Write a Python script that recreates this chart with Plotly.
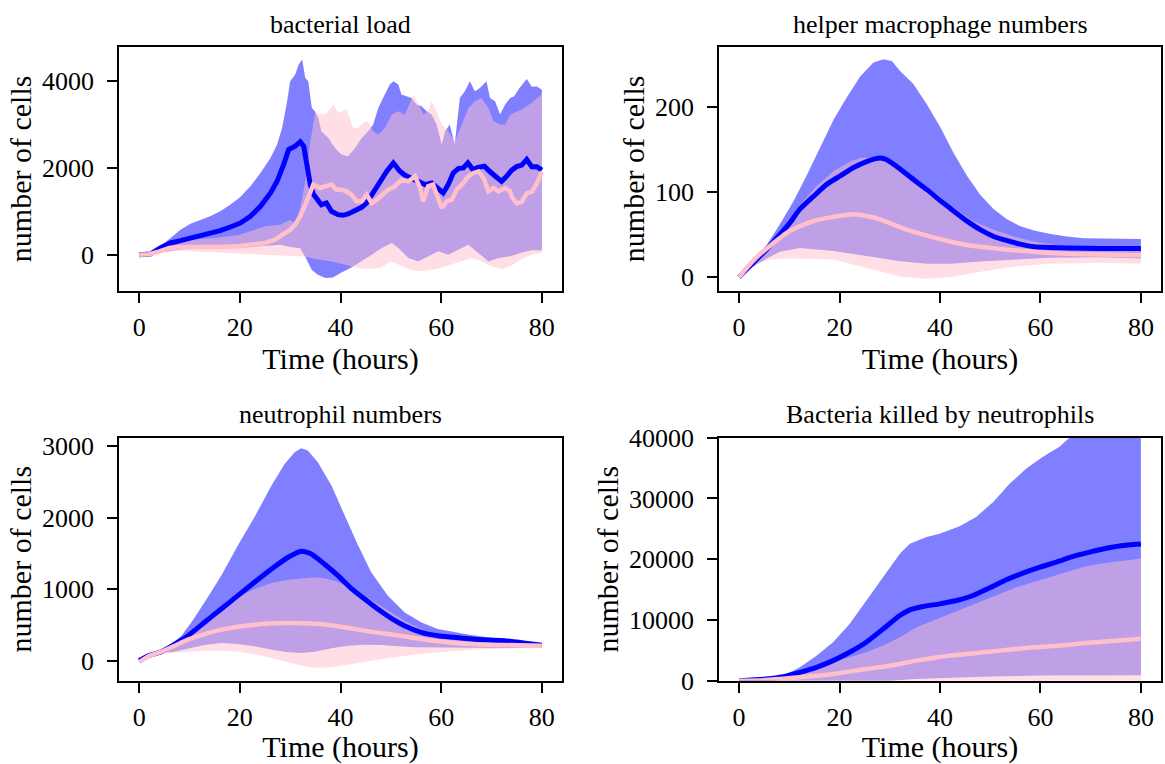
import plotly.graph_objects as go

# ---------------- Panel 1: bacterial load ----------------
p1_blue_mean_t = [0, 2.2, 4.2, 6.2, 8.2, 10.2, 12.2, 14.1, 16.1, 18.1, 20.1, 22.1, 24.1, 26.1, 27.4, 28.7, 29.7, 31.0, 32.0, 32.7,
                  33.4, 34.0, 34.6, 35.2, 36.2, 37.2, 38.2, 39.5, 40.5, 41.5, 42.8, 44.2, 45.2, 46.2, 47.2, 48.2, 49.2, 50.5, 51.8, 52.8,
                  54.1, 55.4, 56.8, 58.1, 59.4, 60.4, 61.4, 62.4, 63.4, 64.4, 65.3, 66.3, 67.3, 68.6, 69.6, 71, 72, 73, 74, 75,
                  76, 77, 78, 79, 80]
p1_blue_mean_v = [0, 15, 154, 270, 323, 385, 438, 484, 554, 638, 730, 884, 1115, 1423, 1692, 2076, 2422, 2500, 2600, 2500,
                  2000, 1615, 1400, 1308, 1153, 1193, 1000, 923, 908, 938, 1000, 1093, 1193, 1384, 1538, 1730, 1923, 2115, 1923, 1830,
                  1769, 1692, 1615, 1653, 1538, 1423, 1615, 1884, 1984, 2000, 2115, 1961, 2015, 2039, 1923, 1769, 1692, 1808, 1950, 2030,
                  2065, 2195, 2030, 2030, 1950]
p1_blue_hi_t = [0, 2.2, 4.2, 6.2, 8.2, 10.2, 12.2, 14.1, 16.1, 18.1, 20.1, 22.1, 24.1, 26.1, 27.4, 28.4, 29.4, 30.0, 31.0, 31.7,
                32.4, 33.0, 33.6, 34.3, 34.9, 35.6, 36.2, 37.6, 38.9, 40.2, 41.5, 42.9, 44.2, 45.5, 46.5, 47.5, 48.8, 49.8, 50.5, 51.5,
                52.1, 53.1, 54.1, 55.1, 56.1, 57.1, 58.1, 59.1, 60.1, 60.8, 61.7, 62.7, 63.7, 64.7, 65.7, 66.7, 67.7, 69.0, 69.7, 70.7,
                71.7, 72.7, 73.7, 74.5, 75.5, 77, 78, 79, 80]
p1_blue_hi_v = [0, 38, 190, 385, 577, 715, 807, 884, 1000, 1153, 1330, 1576, 1884, 2230, 2538, 2922, 3537, 3999, 4153, 4383,
                4500, 4076, 3999, 3384, 3307, 3153, 2845, 2692, 2461, 2307, 2269, 2461, 2692, 2845, 3000, 3384, 3691, 3922, 3999, 3922,
                3691, 3653, 3614, 3460, 3422, 3307, 3230, 3000, 2538, 2845, 3000, 2538, 3614, 3768, 3999, 3768, 3845, 3999, 3614, 3537,
                3230, 3460, 3614, 3650, 3830, 4050, 3870, 3880, 3800]
p1_blue_lo_t = [0, 3, 5, 8, 12, 16, 20, 25, 28, 30, 32, 33, 33.5, 34.3, 35.5, 37, 38.5, 40, 42, 43,
                44.2, 46.2, 48.2, 50.2, 51.5, 53.5, 55.4, 57.4, 59.4, 61.4, 63.4, 65.4, 67.4, 69.4, 71.4, 73.7, 76, 78, 80]
p1_blue_lo_v = [0, 0, 60, 120, 150, 160, 155, 200, 230, 180, 150, -50, -150, -350, -461, -538, -523, -423, -308, -230,
                -154, 0, 154, 270, 154, -77, -154, -38, 77, 0, 115, 230, 38, -154, -77, -38, 50, 100, 100]
p1_pink_mean_t = [0, 2, 4, 6, 8, 12, 16, 20, 23, 25, 27, 28.5, 30, 31, 32, 33, 34, 34.6, 35.9, 36.9,
                  38.2, 39.2, 40.2, 41.2, 42.2, 43.2, 44.2, 45.2, 46.2, 47.2, 48.2, 49.5, 50.8, 52.1, 53.5, 54.8, 55.8, 56.4, 57.4, 58.4,
                  59.1, 60.1, 61.1, 62.1, 63.1, 64.1, 65.4, 66.4, 67.4, 68.4, 69.4, 70.4, 71.4, 72.7, 73.7, 74, 75, 76, 77, 78,
                  79, 80]
p1_pink_mean_v = [0, 10, 77, 154, 177, 170, 177, 200, 230, 270, 346, 461, 577, 692, 884, 1153, 1461, 1615, 1538, 1576,
                  1615, 1500, 1500, 1461, 1384, 1230, 1230, 1384, 1192, 1269, 1384, 1500, 1576, 1730, 1692, 1807, 1538, 1230, 1576, 1615,
                  1384, 1077, 1230, 1269, 1500, 1615, 1807, 1884, 1922, 1769, 1461, 1538, 1461, 1538, 1461, 1336, 1183, 1220, 1413, 1450,
                  1643, 1912]
p1_pink_hi_t = [0, 3, 5, 8, 10, 15, 20, 25, 28, 30, 31, 32, 33, 34, 35, 35.6, 36.9, 37.9, 38.6, 39.6,
                40.6, 41.2, 42.5, 43.5, 44.5, 45.5, 46.5, 47.5, 48.8, 50.2, 51.5, 52.8, 54.5, 55.5, 56.5, 57.4, 58.1, 59.1, 60.1, 61.4,
                62.7, 64.1, 65.4, 66.7, 68.0, 69.4, 70.4, 71.7, 72.7, 73.7, 76, 78, 80]
p1_pink_hi_v = [0, 20, 120, 250, 346, 385, 461, 654, 692, 807, 730, 1077, 1700, 2600, 3300, 3230, 3230, 3345, 3460, 3268,
                3307, 3345, 2922, 2922, 3038, 3076, 2845, 2768, 2922, 3230, 3307, 3230, 3691, 3460, 3230, 3307, 3537, 3307, 3000, 2845,
                2615, 3000, 3384, 3537, 3614, 3384, 3076, 3000, 3000, 3230, 3350, 3500, 3700]
p1_pink_lo_t = [0, 3, 5, 8, 12, 16, 20, 25, 30, 33, 35, 38, 41, 43, 46, 48, 50, 52, 54, 56,
                58, 60, 62, 64, 66, 68, 70, 72, 74, 76, 78, 80]
p1_pink_lo_v = [0, 10, 60, 90, 70, 50, 30, 0, -30, -40, -100, -150, -230, -300, -330, -300, -150, -250, -350, -380,
                -350, -300, -230, -150, -77, -150, -270, -330, -250, -100, 0, 50]

# ---------------- Panel 2: helper macrophage numbers ----------------
p2_blue_mean_t = [0, 1.1, 2.8, 5.5, 8.1, 10.1, 12.1, 14.8, 17.4, 20.1, 22.8, 25.4, 28.1, 29.4, 32.1, 34.7, 37.4, 40.1, 42.7, 45.4,
                  48.0, 50.7, 53.4, 56.0, 58.7, 62, 65.3, 72, 80]
p2_blue_mean_v = [0, 7, 17, 33, 50, 64, 80, 95, 109, 119, 129, 136, 140, 138, 127, 115, 103, 90, 78, 66,
                  56, 48, 43, 39, 36, 35, 34.5, 34, 34]
p2_blue_hi_t = [0, 2.8, 5.5, 8.1, 10.8, 13.4, 16.1, 18.8, 21.4, 24.1, 26.7, 28.7, 30.4, 32.1, 34.7, 37.4, 40.1, 42.7, 45.4, 48.0,
                50.7, 53.4, 56.0, 58.7, 62, 65.3, 68.7, 72, 80]
p2_blue_hi_v = [0, 19, 38, 62, 89, 119, 152, 185, 211, 236, 252, 256, 254, 242, 227, 203, 176, 146, 119, 97,
                80, 68, 60, 55, 51, 48, 46, 45.5, 45]
p2_blue_lo_t = [0, 2.8, 5.5, 8.1, 12.1, 18.8, 25.4, 32.1, 37.4, 42.0, 48.7, 55.4, 62, 72, 80]
p2_blue_lo_v = [0, 13, 22, 30, 34.5, 31, 25, 19, 16, 16, 19, 21, 23, 23.5, 22]
p2_pink_mean_t = [0, 1.5, 4.1, 6.8, 9.4, 12.1, 15.4, 18.8, 22.8, 25.4, 28.1, 30.7, 33.4, 37.4, 41.4, 45.4, 49.4, 53.4, 57.4, 62,
                  66.7, 72, 80]
p2_pink_mean_v = [0, 11, 27, 40, 52, 60, 67, 71, 74, 72, 68, 62, 56, 49, 43, 38, 35, 32.5, 30.5, 28.6,
                  27.5, 26.7, 26]
p2_pink_hi_t = [0, 2.8, 5.5, 8.7, 12.1, 15.4, 18.8, 22.1, 24.1, 26.7, 29.4, 32.1, 34.7, 38.7, 42.7, 46.7, 50.7, 54.7, 58.7, 65.3,
                72, 80]
p2_pink_hi_v = [0, 19, 36, 58, 85, 107, 125, 136, 140, 141, 138, 129, 117, 101, 82, 66, 56, 48, 42, 36,
                33, 32]
p2_pink_lo_t = [0, 2.8, 5.5, 8.1, 12.1, 18.8, 25.4, 32.1, 37.4, 42.0, 48.7, 55.4, 62, 72, 80]
p2_pink_lo_v = [0, 14, 20, 22, 22, 21, 11, 1, -1.6, 0, 7, 13, 16, 17, 16]

# ---------------- Panel 3: neutrophil numbers ----------------
p3_blue_mean_t = [0, 1.8, 4.4, 7.1, 9.7, 13.0, 16.3, 19.6, 22.9, 26.3, 29.6, 32.2, 34.2, 36.8, 39.5, 42.1, 44.8, 47.4, 50.1, 52.7,
                  56.0, 59.3, 62.6, 65.9, 69.2, 72.6, 80]
p3_blue_mean_v = [0, 70, 126, 233, 350, 537, 723, 910, 1097, 1283, 1447, 1531, 1493, 1353, 1190, 1013, 863, 723, 593, 490,
                  397, 350, 327, 303, 289, 280, 215]
p3_blue_hi_t = [0, 4.4, 6.4, 8.4, 10.4, 13, 16.3, 19.6, 22.9, 26.3, 28.9, 30.9, 32.2, 33.5, 35.5, 38.2, 40.8, 43.5, 46.1, 49.4,
                52.7, 56.0, 59.3, 62.6, 65.9, 69.2, 72.6, 80]
p3_blue_hi_v = [0, 163, 233, 350, 537, 817, 1190, 1610, 2007, 2450, 2753, 2917, 2973, 2940, 2777, 2450, 2030, 1610, 1237, 910,
                677, 537, 443, 397, 359, 327, 303, 240]
p3_blue_lo_t = [0, 4.4, 6.4, 9.7, 13, 16.3, 19.6, 22.9, 26.3, 29.6, 32.2, 34.9, 38.2, 41.5, 44.8, 48.1, 51.4, 54.7, 59.3, 65.9,
                72.6, 80]
p3_blue_lo_v = [0, 120, 117, 163, 219, 247, 233, 201, 154, 117, 107, 126, 173, 210, 224, 219, 201, 187, 177, 177,
                177, 190]
p3_pink_mean_t = [0, 1.8, 4.4, 7.1, 9.7, 13, 16.3, 19.6, 22.9, 26.3, 29.6, 32.9, 36.2, 39.5, 42.8, 46.1, 49.4, 52.7, 56, 59.3,
                  62.6, 65.9, 69.2, 72.6, 80]
p3_pink_mean_v = [-20, 60, 126, 210, 294, 373, 434, 476, 504, 523, 527, 523, 509, 481, 443, 406, 373, 341, 303, 271,
                  247, 233, 224, 219, 210]
p3_pink_hi_t = [0, 4.4, 7.1, 9.7, 13, 16.3, 19.6, 22.9, 26.3, 29.6, 32.9, 34.9, 36.8, 39.5, 42.1, 44.8, 47.4, 50.1, 52.7, 56,
                59.3, 62.6, 65.9, 72.6, 80]
p3_pink_hi_v = [-20, 130, 233, 397, 583, 747, 887, 1003, 1087, 1134, 1153, 1167, 1153, 1106, 1003, 910, 793, 677, 560, 443,
                359, 313, 280, 257, 230]
p3_pink_lo_t = [0, 4.4, 6.4, 9.7, 13, 16.3, 19.6, 22.9, 26.3, 29.6, 32.9, 35.5, 38.2, 41.5, 44.8, 49.4, 54, 59.3, 65.9, 72.6,
                80]
p3_pink_lo_v = [-20, 120, 107, 126, 140, 140, 126, 93, 33, -23, -79, -103, -93, -61, -23, 33, 79, 117, 154, 173,
                185]

# ---------------- Panel 4: Bacteria killed by neutrophils ----------------
p4_blue_mean_t = [0, 5.4, 8.8, 12.1, 15.4, 18.7, 22, 25.3, 28.7, 32, 34, 36.6, 39.9, 43.3, 46.6, 49.9, 53.2, 56.5, 59.9, 63.2,
                  66.5, 69.8, 71.8, 76, 80]
p4_blue_mean_v = [0, 275, 660, 1375, 2200, 3300, 4675, 6325, 8525, 10725, 11660, 12210, 12650, 13200, 14025, 15290, 16610, 17710, 18700, 19525,
                  20460, 21175, 21560, 22200, 22500]
p4_blue_hi_t = [0, 5.4, 8.8, 12.1, 15.4, 18.7, 22, 25.3, 28.7, 32, 34, 37.3, 39.9, 43.9, 47.2, 50.6, 53.9, 57.2, 60.5, 63.8,
                65.2, 70, 75, 80]
p4_blue_hi_v = [0, 300, 825, 2200, 4125, 6325, 9350, 13200, 17050, 20900, 22550, 23650, 24200, 25410, 26950, 29425, 32450, 34925, 36850, 38500,
                39600, 42500, 45000, 47000]
p4_blue_lo_t = [0, 20, 30, 35, 40, 50, 60, 72, 80]
p4_blue_lo_v = [0, 0, 0, 300, 500, 700, 850, 900, 900]
p4_pink_mean_t = [0, 5.4, 12.1, 18.7, 25.3, 28.7, 32, 35.3, 38.6, 41.9, 45.3, 48.6, 51.9, 55.2, 58.5, 61.8, 65.2, 68.5, 71.8, 80]
p4_pink_mean_v = [0, 110, 550, 1100, 1925, 2310, 2750, 3300, 3740, 4125, 4400, 4675, 4950, 5225, 5500, 5665, 5885, 6160, 6380, 6900]
p4_pink_hi_t = [0, 5.4, 8.8, 12.1, 15.4, 18.7, 22, 25.3, 28.7, 32, 35.3, 38.6, 41.9, 45.3, 48.6, 51.9, 55.2, 58.5, 61.8, 65.2,
                68.5, 71.8, 80]
p4_pink_hi_v = [0, 150, 550, 1375, 2200, 3025, 3850, 4675, 5775, 7150, 8800, 9900, 11000, 12100, 13200, 14300, 15400, 16225, 17050, 17875,
                18700, 19250, 20100]
p4_pink_lo_t = [0, 10, 30, 80]
p4_pink_lo_v = [0, 0, -200, -300]

titles = ["bacterial load", "helper macrophage numbers", "neutrophil numbers", "Bacteria killed by neutrophils"]
x_ticks = [0, 20, 40, 60, 80]
y_ticks = [[0, 2000, 4000], [0, 100, 200], [0, 1000, 2000, 3000], [0, 10000, 20000, 30000, 40000]]
y_ranges = [[-830, 4788], [-15.7, 270.5], [-280, 3120], [0, 40000]]

W, H = 1165, 764
BLUE_FILL = "rgba(0,0,255,0.5)"
PINK_FILL = "rgba(255,192,203,0.5)"
BLUE = "#0000ff"
PINK = "#ffc0cb"
FONT = "Liberation Serif, Times New Roman, serif"

panels = [
    (p1_blue_mean_t, p1_blue_mean_v, p1_blue_hi_t, p1_blue_hi_v, p1_blue_lo_t, p1_blue_lo_v,
     p1_pink_mean_t, p1_pink_mean_v, p1_pink_hi_t, p1_pink_hi_v, p1_pink_lo_t, p1_pink_lo_v),
    (p2_blue_mean_t, p2_blue_mean_v, p2_blue_hi_t, p2_blue_hi_v, p2_blue_lo_t, p2_blue_lo_v,
     p2_pink_mean_t, p2_pink_mean_v, p2_pink_hi_t, p2_pink_hi_v, p2_pink_lo_t, p2_pink_lo_v),
    (p3_blue_mean_t, p3_blue_mean_v, p3_blue_hi_t, p3_blue_hi_v, p3_blue_lo_t, p3_blue_lo_v,
     p3_pink_mean_t, p3_pink_mean_v, p3_pink_hi_t, p3_pink_hi_v, p3_pink_lo_t, p3_pink_lo_v),
    (p4_blue_mean_t, p4_blue_mean_v, p4_blue_hi_t, p4_blue_hi_v, p4_blue_lo_t, p4_blue_lo_v,
     p4_pink_mean_t, p4_pink_mean_v, p4_pink_hi_t, p4_pink_hi_v, p4_pink_lo_t, p4_pink_lo_v),
]

# pixel boxes of the four axes (left, right, top, bottom)
boxes = [(119, 562, 47, 290.7), (719, 1161, 47, 290.7), (119, 562, 437.7, 680.7), (719, 1161, 437.7, 680.7)]

fig = go.Figure()
for i, (bmt, bmv, bht, bhv, blt, blv, pmt, pmv, pht, phv, plt_, plv) in enumerate(panels):
    ax = "" if i == 0 else str(i + 1)
    xa, ya = "x" + ax, "y" + ax
    shape = "linear" if i == 0 else "spline"
    fig.add_trace(go.Scatter(x=bht + blt[::-1], y=bhv + blv[::-1], fill="toself", fillcolor=BLUE_FILL,
                             line=dict(width=0), mode="lines", hoverinfo="skip",
                             showlegend=False, xaxis=xa, yaxis=ya))
    fig.add_trace(go.Scatter(x=pht + plt_[::-1], y=phv + plv[::-1], fill="toself", fillcolor=PINK_FILL,
                             line=dict(width=0), mode="lines", hoverinfo="skip",
                             showlegend=False, xaxis=xa, yaxis=ya))
    fig.add_trace(go.Scatter(x=bmt, y=bmv, mode="lines", line=dict(color=BLUE, width=5, shape=shape, smoothing=0.6),
                             showlegend=False, xaxis=xa, yaxis=ya))
    fig.add_trace(go.Scatter(x=pmt, y=pmv, mode="lines", line=dict(color=PINK, width=4.5, shape=shape, smoothing=0.6),
                             showlegend=False, xaxis=xa, yaxis=ya))

    l, r, t, b = boxes[i]
    common = dict(showline=True, linecolor="black", linewidth=1.8, mirror=True, ticks="outside", ticklen=10,
                  tickwidth=1.6, tickcolor="black", showgrid=False, zeroline=False, automargin=False,
                  tickfont=dict(family=FONT, size=26, color="black"))
    fig.layout["xaxis" + ax] = dict(domain=[l / W, r / W], anchor=ya, range=[-4, 84], tickvals=x_ticks,
                                    ticklabelstandoff=2,
                                    title=dict(text="Time (hours)", font=dict(family=FONT, size=30, color="black"), standoff=5),
                                    **common)
    fig.layout["yaxis" + ax] = dict(domain=[1 - b / H, 1 - t / H], anchor=xa, range=y_ranges[i], tickvals=y_ticks[i],
                                    tickformat="d", ticklabelstandoff=8,
                                    title=dict(text="number of cells", font=dict(family=FONT, size=30, color="black"), standoff=1),
                                    **common)
    fig.add_annotation(text=titles[i], x=(l + r) / 2 / W, y=1 - (t - 23) / H, xref="paper", yref="paper",
                       showarrow=False, xanchor="center", yanchor="middle",
                       font=dict(family=FONT, size=26, color="black"))

fig.update_layout(width=W, height=H, margin=dict(l=0, r=0, t=0, b=0), plot_bgcolor="white", paper_bgcolor="white")
fig.write_html("out.html")
